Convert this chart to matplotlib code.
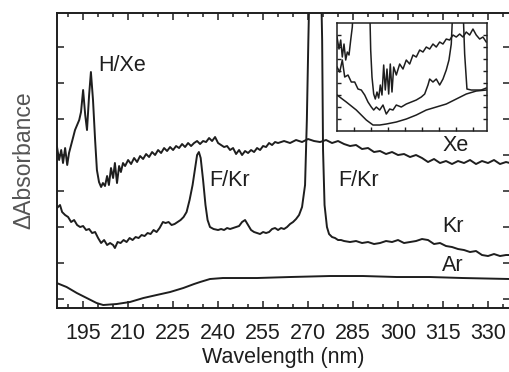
import matplotlib
matplotlib.use("Agg")
import matplotlib.pyplot as plt
from matplotlib.ticker import MultipleLocator

plt.rcParams["font.family"] = ["Liberation Sans", "DejaVu Sans"]

INK = "#1e1e1e"

# offset difference spectra (arbitrary units, traces stacked)
xe_nm = [186.3, 187.0, 187.7, 188.3, 189.0, 189.7, 190.3, 191.0, 191.7, 192.3,
         193.0, 193.7, 194.3, 195.0, 195.7, 196.3, 197.0, 197.6, 198.3, 199.0,
         199.6, 200.3, 201.0, 201.6, 202.3, 203.0, 203.6, 204.3, 205.0, 205.6,
         206.3, 207.0, 207.6, 208.3, 209.0, 210, 211, 212, 213, 214,
         215, 216, 217, 218, 219, 220, 221, 222, 223, 224,
         225, 226, 227, 228, 229, 230, 231, 232, 233, 234,
         235, 236, 237, 238, 239, 240, 241, 242, 243, 244,
         245, 246, 247, 248, 249, 250, 251, 252, 253, 254,
         255, 256, 257, 258, 259, 260, 262, 264, 266, 268,
         270, 272, 274, 276, 278, 280, 282, 284, 286, 288,
         290, 292, 294, 296, 298, 300, 302, 304, 306, 308,
         310, 312, 314, 316, 318, 320, 322, 324, 326, 328,
         330, 332, 334, 336, 337.3]
xe_abs = [152, 139, 149, 136, 151, 134, 146, 154, 162, 169,
          174, 179, 187, 209, 184, 169, 204, 227, 199, 159,
          129, 117, 112, 116, 113, 123, 114, 131, 121, 136,
          116, 133, 127, 136, 133, 139, 135, 141, 137, 143,
          140, 145, 142, 147, 144, 149, 146, 151, 148, 152,
          149, 153, 151, 155, 152, 156, 153, 156, 158, 155,
          158, 157, 161, 158, 162, 156, 154, 152, 153, 149,
          151, 145, 149, 144, 148, 146, 149, 147, 151, 149,
          153, 152, 156, 154, 157, 156, 158, 156, 159, 157,
          160, 158, 157, 159, 156, 158, 155, 153, 154, 150,
          151, 147, 148, 145, 147, 144, 145, 142, 144, 141,
          137, 140, 136, 138, 135, 138, 136, 139, 135, 138,
          136, 139, 135, 137, 136]

kr_nm = [186.3, 187.3, 188, 189, 190, 191, 192, 193, 194, 195,
         196, 197, 198, 199, 200, 201, 202, 203, 204, 205,
         205.6, 206.5, 207.5, 208.5, 209.5, 210.5, 211.5, 212.5, 213.5, 214.5,
         215.5, 216.5, 217.5, 218.5, 219.5, 220.5, 221.6, 222.5, 223.5, 224.5,
         225.5, 226.5, 227.5, 228.5, 229.5, 230.5, 231.5, 232.5, 233.0, 233.6,
         234.2, 235.0, 235.8, 236.5, 237.3, 238.5, 240, 241, 242, 243,
         244, 245, 246, 247, 248, 249, 250, 251, 252, 253,
         254, 255, 256, 257, 258, 259, 260, 261, 262, 263,
         264, 265, 266, 267, 268, 269, 269.6, 270.1, 272.5, 274.7,
         275.0, 275.5, 276.3, 277, 278, 279, 280, 281, 282, 284,
         286, 288, 290, 292, 294, 296, 298, 300, 302, 304,
         306, 308, 310, 312, 314, 316, 318, 320, 322, 324,
         326, 328, 330, 332, 334, 336, 337.3]
kr_abs = [91, 94, 87, 84, 82, 77, 79, 74, 72, 73,
          69, 70, 66, 67, 61, 56, 59, 54, 56, 54,
          51, 57, 56, 59, 57, 61, 59, 62, 61, 64,
          63, 66, 65, 69, 67, 71, 77, 76, 77, 74,
          75, 77, 79, 82, 87, 99, 114, 134, 144, 147,
          141, 119, 94, 79, 72, 70, 69, 70, 69, 71,
          70, 71, 72, 73, 77, 79, 74, 69, 67, 66,
          65, 67, 66, 67, 70, 71, 69, 71, 70, 72,
          75, 77, 80, 84, 92, 114, 179, 259, 599, 259,
          149, 94, 72, 65, 62, 61, 59, 59, 58, 57,
          58, 56, 57, 55, 56, 58, 57, 59, 56, 57,
          58, 60, 59, 55, 56, 53, 52, 50, 49, 47,
          48, 44, 43, 45, 43, 44, 44]

ar_nm = [186.2, 189.5, 192.9, 196.2, 199.5, 201.7, 206.2, 210.6, 215.1, 219.5,
         224.0, 228.4, 232.0, 234.0, 237.3, 241.6, 253.0, 264.0, 277.3, 288.3,
         299.6, 310.6, 321.6, 337.3]
ar_abs = [16, 12, 6, 1, -4, -6, -5, -3, 1, 4,
          7, 11, 15, 17, 20, 21, 21, 22, 23, 23,
          22, 22, 21, 20]

# inset: expanded view of the three traces (arbitrary units)
in_xe_x = [0, 2, 3.7, 5.3, 7, 8.7, 10.3, 12, 13.7, 15.3, 16.3, 32.7, 33.7, 35,
           36.7, 38.3, 40, 41.7, 43.3, 45, 46.7, 48.3, 50, 51.7, 53.3, 55, 56.7,
           59.3, 62.7, 66, 69.3, 72.7, 76, 79.3, 82.7, 86, 89.3, 92.7, 96, 99.3,
           102.7, 106, 109.3, 112.7, 116, 119.3, 122.7, 126, 129.3, 132.7, 136,
           139.3, 142.7, 146, 149.3]
in_xe_y = [94, 82, 91, 74, 87, 71, 79, 76, 91, 104, 125, 125, 81, 54,
           37, 32, 39, 33, 46, 36, 66, 41, 62, 37, 67, 39, 64,
           56, 67, 62, 71, 67, 76, 74, 81, 79, 84, 82, 87, 84,
           89, 87, 92, 91, 96, 94, 97, 94, 99, 96, 102,
           96, 92, 94, 89]

in_kr_x = [0, 2.7, 5.3, 7.7, 11, 14.3, 17.7, 21, 24.3, 27.7, 31, 34.3, 36.7,
           39.3, 42.7, 46, 49.3, 52.7, 56, 59.3, 64.3, 69.3, 74.3, 79.3, 84.3,
           87.7, 91, 92.7, 96, 99.3, 102.7, 106, 109.3, 112, 114.3, 116, 126,
           127.7, 130, 134.3, 139.3, 144.3, 149.3]
in_kr_y = [64, 59, 71, 54, 56, 49, 49, 42, 41, 36, 29, 24, 21,
           24, 21, 26, 17, 22, 21, 26, 24, 27, 29, 31, 34,
           37, 46, 52, 49, 52, 46, 52, 61, 71, 87, 125, 125,
           77, 42, 41, 41, 41, 43]

in_ar_x = [0, 9.3, 19.3, 29.3, 36, 42.7, 49.3, 59.3, 69.3, 79.3, 89.3, 99.3,
           109.3, 119.3, 129.3, 139.3, 149.3]
in_ar_y = [36, 29, 21, 11, 6, 6, 7, 9, 12, 16, 21, 24,
           27, 32, 37, 40, 41]

trace_labels = ["H/Xe", "F/Kr", "F/Kr", "Xe", "Kr", "Ar"]
label_nm = [200.0, 237.2, 280.0, 314.8, 314.8, 314.8]
label_abs = [234, 119, 119, 154, 73, 34]

fig = plt.figure(figsize=(5.10, 3.72), dpi=100)
ax = fig.add_axes([0.1118, 0.172, 0.888, 0.793])

for x, y in [(xe_nm, xe_abs), (kr_nm, kr_abs), (ar_nm, ar_abs)]:
    ax.plot(x, y, color=INK, lw=1.4, solid_joinstyle="round")

for t, x, y in zip(trace_labels, label_nm, label_abs):
    ax.text(x, y, t, fontsize=15.5, color=INK, ha="left", va="center")

ax.set_xlim(186.3, 337.3)
ax.set_ylim(-9, 286)
ax.xaxis.set_minor_locator(MultipleLocator(5))
ax.set_xticks(range(195, 331, 15))
ax.set_yticks(range(0, 253, 36))
ax.set_yticklabels([])
ax.tick_params(axis="both", which="both", direction="in", top=True, right=True,
               colors=INK, width=1.1)
ax.tick_params(axis="x", which="major", length=5, labelsize=15.5, pad=11)
ax.tick_params(axis="x", which="minor", length=3)
ax.tick_params(axis="y", length=5)
for side in ["left", "bottom", "top"]:
    ax.spines[side].set_linewidth(1.4)
    ax.spines[side].set_color(INK)
ax.spines["right"].set_color("#cccccc")

ax.set_xlabel("Wavelength (nm)", fontsize=15.5, color=INK, labelpad=2)
ax.set_ylabel("ΔAbsorbance", fontsize=16.5, color="#555555", labelpad=12)

ins = fig.add_axes([0.6608, 0.6478, 0.294, 0.2903])
for x, y in [(in_xe_x, in_xe_y), (in_kr_x, in_kr_y), (in_ar_x, in_ar_y)]:
    ins.plot(x, y, color=INK, lw=1.1)
ins.set_xlim(0, 150)
ins.set_ylim(0, 108)
ins.set_xticks([17, 34, 51, 68, 85, 102, 119, 136])
ins.set_yticks([12, 24, 36, 48, 60, 72, 84, 96])
ins.set_xticklabels([])
ins.set_yticklabels([])
ins.tick_params(direction="in", length=3, width=1.0, right=True, colors=INK)
for s in ins.spines.values():
    s.set_linewidth(1.1)
    s.set_color(INK)

fig.savefig("out.png", dpi=100)
